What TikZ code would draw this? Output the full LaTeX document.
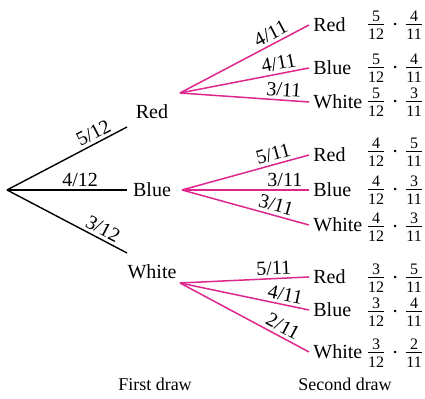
\documentclass[tikz,border=0pt]{standalone}
\usepackage{amsmath}
\usepackage{fontspec}
\setmainfont{Liberation Serif}
\usepackage{tikz}
\usetikzlibrary{positioning}
\definecolor{branchpink}{RGB}{222,38,140}
\newcommand{\drawpair}[4]{$\frac{\text{#1}}{\text{#2}}\cdot\frac{\text{#3}}{\text{#4}}$}

\begin{document}
\begin{tikzpicture}[
  x=0.5pt,y=-0.5pt,
  word/.style={inner sep=2pt,font=\normalsize},
  prod/.style={inner sep=0pt,font=\large},
  frac/.style={inner sep=1.5pt,sloped,above,font=\normalsize,text=black},
  first/.style={line width=0.7pt,black},
  second/.style={line width=0.75pt,branchpink},
  foot/.style={font=\small}
]
  \useasboundingbox (0,0) rectangle (425,399);

  % first draw
  \coordinate (root) at (7,190);
  \node[word] (red) at (152,112) {Red};
  \node[word] (blue) at (152,190) {Blue};
  \node[word] (white) at (152,272) {White};
  \coordinate (red-in) at (127,127);
  \coordinate (blue-in) at (127,190);
  \coordinate (white-in) at (127,253);
  \coordinate (red-out) at (180,93);
  \coordinate (blue-out) at (182,190);
  \coordinate (white-out) at (180,283);

  \draw[first] (root) -- node[frac,pos=0.76] {5/12} (red-in);
  \draw[first] (root) -- node[frac,pos=0.61] {4/12} (blue-in);
  \draw[first] (root) -- node[frac,pos=0.76] {3/12} (white-in);

  % second draw
  \node[word,anchor=west] (rr) at (309,25) {Red};
  \node[word,anchor=west] (rb) at (309,68) {Blue};
  \node[word,anchor=west] (rw) at (309,102) {White};
  \node[word,anchor=west] (br) at (309,155) {Red};
  \node[word,anchor=west] (bb) at (309,190) {Blue};
  \node[word,anchor=west] (bw) at (309,225) {White};
  \node[word,anchor=west] (wr) at (309,277) {Red};
  \node[word,anchor=west] (wb) at (309,310) {Blue};
  \node[word,anchor=west] (ww) at (309,352) {White};

  \draw[second] (red-out) -- node[frac,pos=0.74] {4/11} (rr.west);
  \draw[second] (red-out) -- node[frac,pos=0.78] {4/11} (rb.west);
  \draw[second] (red-out) -- node[frac,pos=0.80] {3/11} (rw.west);
  \draw[second] (blue-out) -- node[frac,pos=0.74] {5/11} (br.west);
  \draw[second] (blue-out) -- node[frac,pos=0.81] {3/11} (bb.west);
  \draw[second] (blue-out) -- node[frac,pos=0.72] {3/11} (bw.west);
  \draw[second] (white-out) -- node[frac,pos=0.73] {5/11} (wr.west);
  \draw[second] (white-out) -- node[frac,pos=0.80] {4/11} (wb.west);
  \draw[second] (white-out) -- node[frac,pos=0.76] {2/11} (ww.west);

  % products
  \node[prod] (prr) at (395,25) {\drawpair{5}{12}{4}{11}};
  \node[prod] (prb) at (395,68) {\drawpair{5}{12}{4}{11}};
  \node[prod] (prw) at (395,102) {\drawpair{5}{12}{3}{11}};
  \node[prod] (pbr) at (395,152) {\drawpair{4}{12}{5}{11}};
  \node[prod] (pbb) at (395,190) {\drawpair{4}{12}{3}{11}};
  \node[prod] (pbw) at (395,227) {\drawpair{4}{12}{3}{11}};
  \node[prod] (pwr) at (395,278) {\drawpair{3}{12}{5}{11}};
  \node[prod] (pwb) at (395,312) {\drawpair{3}{12}{4}{11}};
  \node[prod] (pww) at (395,353) {\drawpair{3}{12}{2}{11}};

  \node[foot] (firstdraw) at (155,384) {First draw};
  \node[foot] (seconddraw) at (345,384) {Second draw};
\end{tikzpicture}
\end{document}
